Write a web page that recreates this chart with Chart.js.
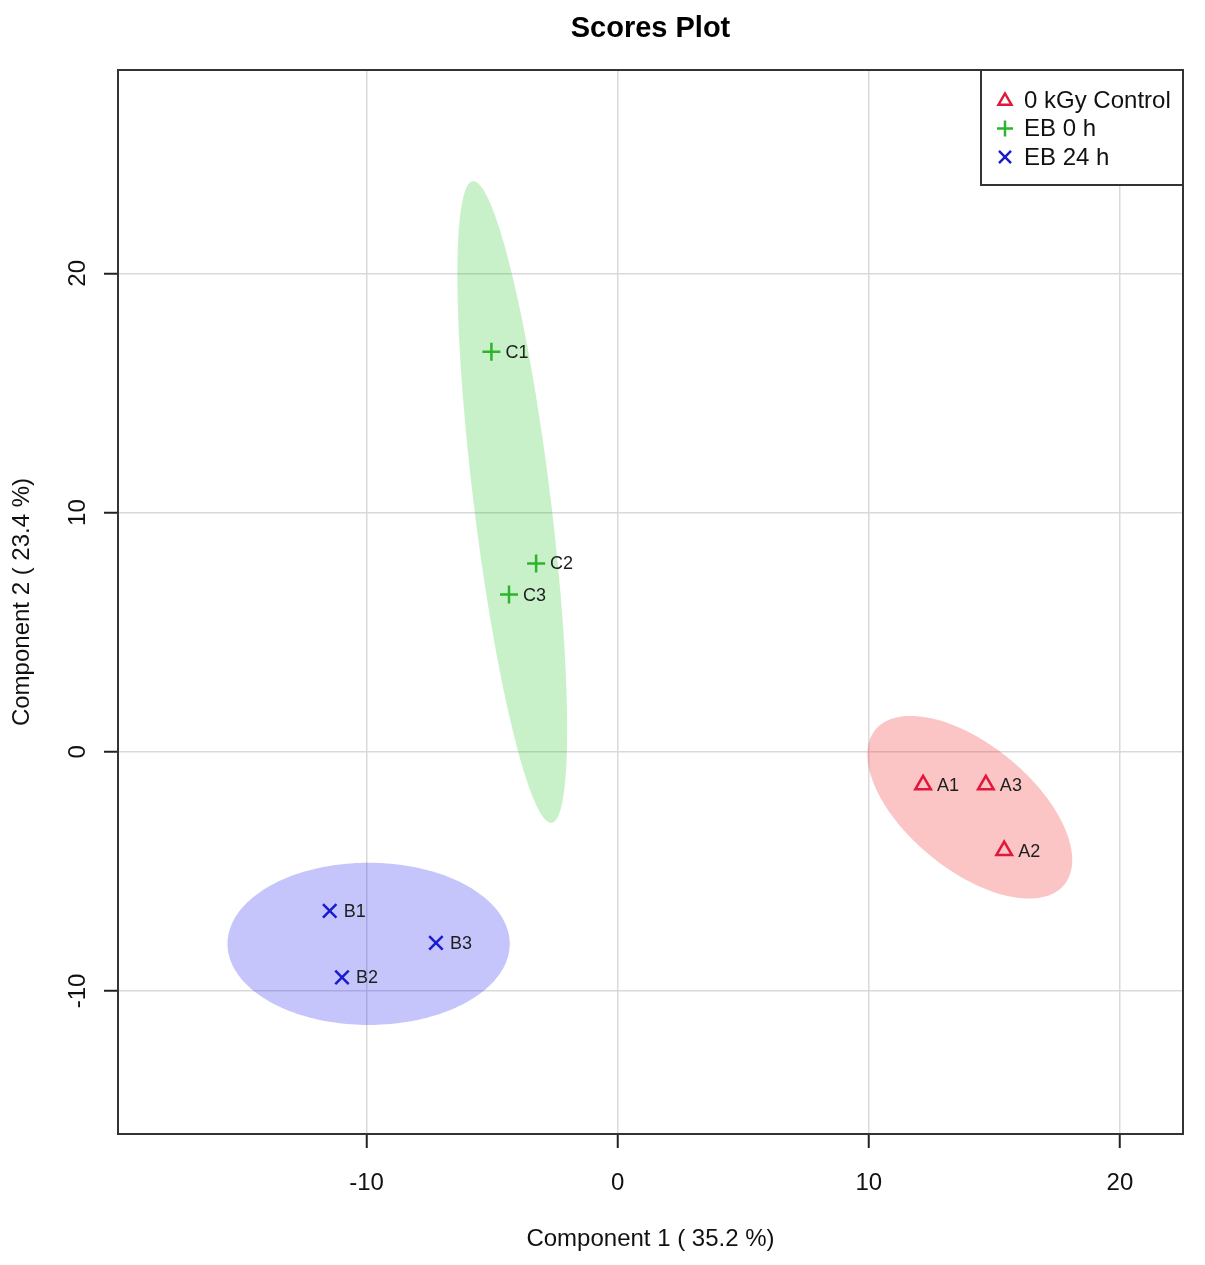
<!DOCTYPE html>
<html><head><meta charset="utf-8">
<script src="https://cdn.jsdelivr.net/npm/chart.js@4.4.1/dist/chart.umd.min.js"></script>
<style>html,body{margin:0;padding:0;background:#fff;} canvas{display:block;}</style>
</head><body>
<canvas id="c" width="1205" height="1265" style="width:1205px;height:1265px"></canvas>
<script>
const chartTitle = 'Scores Plot';
const xAxisTitle = 'Component 1 ( 35.2 %)';
const yAxisTitle = 'Component 2 ( 23.4 %)';
const groupNames = ['0 kGy Control', 'EB 0 h', 'EB 24 h'];
const groupColors = ['#e0183c', '#2cb52c', '#1a1ad0'];
const ellipseColors = ['rgba(240,40,40,0.27)', 'rgba(40,200,40,0.25)', 'rgba(40,40,240,0.27)'];
const xTicks = [-10, 0, 10, 20];
const yTicks = [-10, 0, 10, 20];

const ctrlLabels = ['A1', 'A2', 'A3'];
const ctrlX = [12.16, 15.39, 14.66];
const ctrlY = [-1.38, -4.13, -1.38];
const eb0Labels = ['C1', 'C2', 'C3'];
const eb0X = [-5.03, -3.25, -4.33];
const eb0Y = [16.72, 7.87, 6.57];
const eb24Labels = ['B1', 'B2', 'B3'];
const eb24X = [-11.47, -10.98, -7.24];
const eb24Y = [-6.65, -9.43, -7.99];

// 95% ellipses: centre and two semi-axis vectors (data units), per group
const ellCenterX = [14.02, -4.20, -9.92];
const ellCenterY = [-2.32, 10.44, -8.03];
const ellAxisAX = [3.76, -1.57, 5.62];
const ellAxisAY = [-3.24, 13.41, 0];
const ellAxisBX = [-1.58, 1.52, 0];
const ellAxisBY = [-2.02, 0.20, 3.39];

const FONT = '"Liberation Sans", Arial, sans-serif';
const pts = (xs, ys) => xs.map((x, i) => ({x: x, y: ys[i]}));
const pointLabels = [ctrlLabels, eb0Labels, eb24Labels];

function drawMarker(ctx, style, x, y, r, color, lw) {
  ctx.save();
  ctx.strokeStyle = color; ctx.lineWidth = lw;
  ctx.beginPath();
  if (style === 'triangle') {
    const h = r * 0.866;
    ctx.moveTo(x, y - r); ctx.lineTo(x + h, y + r / 2); ctx.lineTo(x - h, y + r / 2); ctx.closePath();
  } else if (style === 'cross') {
    ctx.moveTo(x - r, y); ctx.lineTo(x + r, y); ctx.moveTo(x, y - r); ctx.lineTo(x, y + r);
  } else {
    const d = r * 0.707;
    ctx.moveTo(x - d, y - d); ctx.lineTo(x + d, y + d); ctx.moveTo(x + d, y - d); ctx.lineTo(x - d, y + d);
  }
  ctx.stroke();
  ctx.restore();
}

const decor = {
  id: 'decor',
  beforeDatasetsDraw(chart) {
    const {ctx, chartArea: a, scales: {x, y}} = chart;
    ctx.save();
    ctx.beginPath(); ctx.rect(a.left, a.top, a.right - a.left, a.bottom - a.top); ctx.clip();
    for (let k = 0; k < ellCenterX.length; k++) {
      ctx.beginPath();
      for (let s = 0; s <= 200; s++) {
        const t = s / 200 * Math.PI * 2;
        const dx = ellCenterX[k] + Math.cos(t) * ellAxisAX[k] + Math.sin(t) * ellAxisBX[k];
        const dy = ellCenterY[k] + Math.cos(t) * ellAxisAY[k] + Math.sin(t) * ellAxisBY[k];
        const px = x.getPixelForValue(dx), py = y.getPixelForValue(dy);
        if (s === 0) ctx.moveTo(px, py); else ctx.lineTo(px, py);
      }
      ctx.closePath();
      ctx.fillStyle = ellipseColors[k];
      ctx.fill();
    }
    ctx.restore();
  },
  afterDatasetsDraw(chart) {
    const {ctx, chartArea: a, scales: {x, y}} = chart;
    // point labels
    ctx.save();
    ctx.font = '18px ' + FONT;
    ctx.fillStyle = '#1e1e1e';
    ctx.textAlign = 'left'; ctx.textBaseline = 'middle';
    chart.data.datasets.forEach((ds, i) => {
      const meta = chart.getDatasetMeta(i);
      meta.data.forEach((el, j) => ctx.fillText(pointLabels[i][j], el.x + 14, el.y + 1));
    });
    ctx.restore();
    // plot box
    ctx.save();
    ctx.strokeStyle = '#333'; ctx.lineWidth = 2;
    ctx.strokeRect(a.left, a.top, a.right - a.left, a.bottom - a.top);
    // y tick labels rotated
    ctx.font = '24px ' + FONT; ctx.fillStyle = '#111';
    ctx.textAlign = 'center'; ctx.textBaseline = 'middle';
    y.ticks.forEach(t => {
      const py = y.getPixelForValue(t.value);
      ctx.save(); ctx.translate(78, py); ctx.rotate(-Math.PI / 2);
      ctx.fillText(String(t.value), 0, 0); ctx.restore();
    });
    // title
    ctx.font = 'bold 29px ' + FONT; ctx.fillStyle = '#000';
    ctx.fillText(chartTitle, (a.left + a.right) / 2, 29);
    // legend
    const lx = 981, ly = a.top, lw = a.right - lx, lh = 115;
    ctx.fillStyle = '#fff'; ctx.fillRect(lx, ly, lw, lh);
    ctx.strokeStyle = '#333'; ctx.lineWidth = 2; ctx.strokeRect(lx, ly, lw, lh);
    const styles = ['triangle', 'cross', 'crossRot'];
    const sizes = [7.5, 8, 8.5];
    groupNames.forEach((n, i) => {
      const ry = ly + 30 + i * 28.5;
      drawMarker(ctx, styles[i], 1005, ry + (i === 0 ? 1 : 0), sizes[i], groupColors[i], 2.5);
      ctx.font = '24px ' + FONT; ctx.fillStyle = '#111';
      ctx.textAlign = 'left'; ctx.textBaseline = 'middle';
      ctx.fillText(n, 1024, ry + 1);
    });
    ctx.restore();
  }
};

new Chart(document.getElementById('c'), {
  type: 'scatter',
  data: {
    datasets: [
      {label: groupNames[0], data: pts(ctrlX, ctrlY), pointStyle: 'triangle', pointRadius: 9,
       borderColor: groupColors[0], backgroundColor: 'rgba(0,0,0,0)', borderWidth: 2.5},
      {label: groupNames[1], data: pts(eb0X, eb0Y), pointStyle: 'cross', pointRadius: 9,
       borderColor: groupColors[1], backgroundColor: groupColors[1], borderWidth: 2.5},
      {label: groupNames[2], data: pts(eb24X, eb24Y), pointStyle: 'crossRot', pointRadius: 9.5,
       borderColor: groupColors[2], backgroundColor: groupColors[2], borderWidth: 2.5}
    ]
  },
  options: {
    responsive: false, animation: false, events: [], devicePixelRatio: 1,
    layout: {padding: {top: 70, right: 22, left: 0, bottom: 0}},
    plugins: {legend: {display: false}, title: {display: false}, tooltip: {enabled: false}},
    scales: {
      x: {
        type: 'linear', min: -19.9, max: 22.51,
        afterBuildTicks: s => { s.ticks = xTicks.map(v => ({value: v})); },
        afterFit: s => { s.height = 131; },
        border: {display: false},
        grid: {color: '#d9d9d9', lineWidth: 1.5, drawTicks: true, tickLength: 14, tickColor: '#222', tickWidth: 2},
        ticks: {font: {family: FONT, size: 24}, color: '#111', padding: 21, maxRotation: 0},
        title: {display: true, text: xAxisTitle, font: {family: FONT, size: 24}, color: '#111', padding: {top: 0, bottom: 11}}
      },
      y: {
        type: 'linear', min: -15.98, max: 28.5,
        afterBuildTicks: s => { s.ticks = yTicks.map(v => ({value: v})); },
        afterFit: s => { s.width = 118; },
        border: {display: false},
        grid: {color: '#d9d9d9', lineWidth: 1.5, drawTicks: true, tickLength: 14, tickColor: '#222', tickWidth: 2},
        ticks: {display: false},
        title: {display: true, text: yAxisTitle, font: {family: FONT, size: 24}, color: '#111', padding: {top: 8, bottom: 0}}
      }
    }
  },
  plugins: [decor]
});
</script>
</body></html>
